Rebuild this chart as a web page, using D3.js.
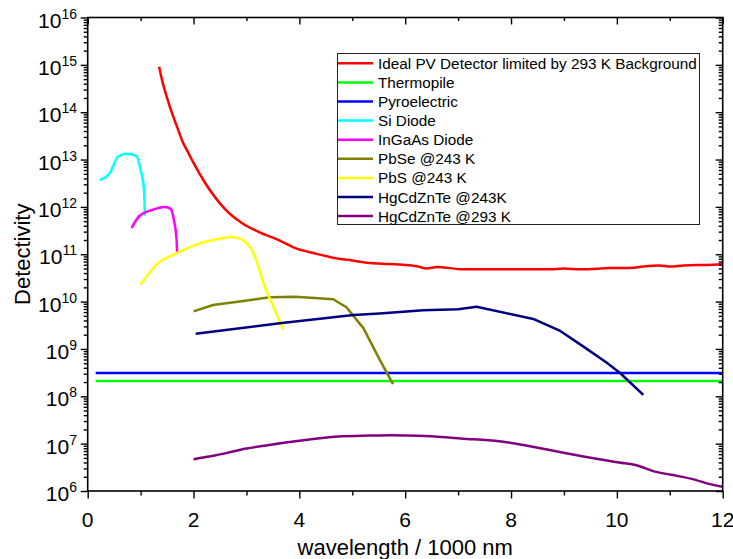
<!DOCTYPE html>
<html>
<head>
<meta charset="utf-8">
<script src="https://cdn.jsdelivr.net/npm/d3@7"></script>
<style>
  html, body { margin: 0; padding: 0; background: #fff; }
  svg { display: block; }
  text { font-family: "Liberation Sans", Arial, sans-serif; fill: #000; }
</style>
</head>
<body>
<svg id="chart" width="733" height="559"></svg>
<script>
// ---------- data (wavelength in µm = 1000 nm, detectivity) ----------
const xTicks = [0, 2, 4, 6, 8, 10, 12];
const yDecades = [6, 7, 8, 9, 10, 11, 12, 13, 14, 15, 16];

const idealX = [1.35,1.41,1.50,1.58,1.68,1.80,1.90,1.99,2.22,2.60,2.90,3.25,3.63,3.90,4.33,4.77,5.00,5.27,5.71,5.96,6.22,6.41,6.60,7.10,8.00,8.74,8.99,9.31,9.87,10.31,10.50,10.82,11.01,11.26,11.83,12.00];
const idealY = [9.1e14,4.5e14,2.0e14,1.05e14,5.2e13,2.3e13,1.4e13,8.9e12,3.2e12,8.9e11,4.7e11,2.9e11,1.95e11,1.38e11,1.02e11,7.9e10,7.4e10,6.6e10,6.2e10,6.0e10,5.6e10,5.0e10,5.4e10,4.8e10,4.8e10,4.8e10,5.0e10,4.8e10,5.1e10,5.2e10,5.5e10,5.8e10,5.5e10,5.8e10,6.0e10,6.3e10];

const thermoX = [0.15, 12];
const thermoY = [2.1e8, 2.1e8];

const pyroX = [0.15, 12];
const pyroY = [3.1e8, 3.1e8];

const siX = [0.23,0.42,0.57,0.73,0.92,1.00,1.065,1.08];
const siY = [3.7e12,5.2e12,1.15e13,1.32e13,1.2e13,6.0e12,2.3e12,6.5e11];

const ingaasX = [0.83,0.98,1.20,1.46,1.57,1.63,1.68,1.69];
const ingaasY = [3.6e11,6.5e11,8.5e11,1.0e12,9.1e11,5.2e11,2.0e11,1.05e11];

const pbseX = [2.0,2.37,2.87,3.44,3.92,4.64,4.89,5.21,5.52,5.77];
const pbseY = [6.2e9,8.5e9,1.0e10,1.23e10,1.26e10,1.12e10,7.6e9,2.75e9,5.9e8,1.8e8];

const pbsX = [1.00,1.33,1.68,2.09,2.47,2.72,2.97,3.16,3.35,3.50,3.69];
const pbsY = [2.3e10,6.5e10,1.05e11,1.66e11,2.1e11,2.3e11,1.86e11,8.9e10,2.0e10,8.3e9,2.6e9];

const hg243X = [2.04,3.63,5.02,5.52,6.34,7.00,7.35,8.42,8.93,9.37,9.81,10.06,10.50];
const hg243Y = [2.1e9,3.5e9,5.2e9,5.6e9,6.6e9,6.9e9,7.8e9,4.3e9,2.4e9,1.12e9,5.1e8,3.1e8,1.07e8];

const hg293X = [2.0,2.4,3.0,3.4,4.0,4.73,5.32,5.72,6.39,7.05,7.98,8.38,9.04,10.04,10.37,10.70,11.03,11.50,11.70,12.0];
const hg293Y = [4.7e6,5.6e6,7.9e6,9.3e6,1.15e7,1.41e7,1.48e7,1.51e7,1.45e7,1.29e7,1.05e7,8.7e6,6.3e6,4.0e6,3.5e6,2.6e6,2.2e6,1.7e6,1.45e6,1.23e6];

const seriesNames = ["Ideal PV Detector limited by 293 K Background","Thermopile","Pyroelectric","Si Diode","InGaAs Diode","PbSe @243 K","PbS @243 K","HgCdZnTe @243K","HgCdZnTe @293 K"];
const seriesColors = ["#ff0000","#00ff00","#0000ff","#00ffff","#ff00ff","#808000","#ffff00","#000080","#800080"];
const seriesXs = [idealX, thermoX, pyroX, siX, ingaasX, pbseX, pbsX, hg243X, hg293X];
const seriesYs = [idealY, thermoY, pyroY, siY, ingaasY, pbseY, pbsY, hg243Y, hg293Y];
const seriesSmooth = [true, false, false, true, true, false, true, false, true];

// ---------- layout ----------
const W = 733, H = 559;
const m = { left: 87.7, right: W - 722.7, top: 17.5, bottom: H - 491 };
const svg = d3.select("#chart");

const x = d3.scaleLinear().domain([0, 12]).range([m.left, W - m.right]);
const y = d3.scaleLog().domain([1e6, 1e16]).range([H - m.bottom, m.top]);

// ---------- series ----------
const gLines = svg.append("g");
seriesNames.forEach((name, i) => {
  const pts = seriesXs[i].map((xv, j) => [xv, seriesYs[i][j]]);
  const line = d3.line()
    .x(d => x(d[0])).y(d => y(d[1]))
    .curve(seriesSmooth[i] ? d3.curveMonotoneX : d3.curveLinear);
  gLines.append("path")
    .attr("d", line(pts))
    .attr("fill", "none")
    .attr("stroke", seriesColors[i])
    .attr("stroke-width", 2.5)
    .attr("stroke-linejoin", "round");
});

// ---------- axes ----------
const majorY = yDecades.map(e => Math.pow(10, e));
const minorY = [];
yDecades.slice(0, -1).forEach(e => { for (let k = 2; k <= 9; k++) minorY.push(k * Math.pow(10, e)); });
const majorX = xTicks;
const minorX = d3.range(1, 12, 2);

function styleAxis(g) {
  g.selectAll("path.domain").remove();
  g.selectAll("line").attr("stroke", "#000").attr("stroke-width", 1.4);
  g.selectAll("text").remove();
}

// left (outward)
svg.append("g").attr("transform", `translate(${m.left},0)`)
  .call(d3.axisLeft(y).tickValues(majorY).tickSize(7)).call(styleAxis);
svg.append("g").attr("transform", `translate(${m.left},0)`)
  .call(d3.axisLeft(y).tickValues(minorY).tickSize(4)).call(styleAxis);
// right (inward)
svg.append("g").attr("transform", `translate(${W - m.right},0)`)
  .call(d3.axisLeft(y).tickValues(majorY).tickSize(7)).call(styleAxis);
svg.append("g").attr("transform", `translate(${W - m.right},0)`)
  .call(d3.axisLeft(y).tickValues(minorY).tickSize(4)).call(styleAxis);
// bottom (outward)
svg.append("g").attr("transform", `translate(0,${H - m.bottom})`)
  .call(d3.axisBottom(x).tickValues(majorX).tickSize(7.5)).call(styleAxis);
svg.append("g").attr("transform", `translate(0,${H - m.bottom})`)
  .call(d3.axisBottom(x).tickValues(minorX).tickSize(4.5)).call(styleAxis);
// top (inward)
svg.append("g").attr("transform", `translate(0,${m.top})`)
  .call(d3.axisBottom(x).tickValues(majorX).tickSize(7)).call(styleAxis);
svg.append("g").attr("transform", `translate(0,${m.top})`)
  .call(d3.axisBottom(x).tickValues(minorX).tickSize(3.5)).call(styleAxis);

// frame
svg.append("rect")
  .attr("x", m.left).attr("y", m.top)
  .attr("width", W - m.left - m.right).attr("height", H - m.top - m.bottom)
  .attr("fill", "none").attr("stroke", "#000").attr("stroke-width", 1.6);

// tick labels
svg.append("g").selectAll("text").data(majorX).join("text")
  .attr("x", d => x(d)).attr("y", 527)
  .attr("text-anchor", "middle").attr("font-size", 21)
  .text(d => d);

const yl = svg.append("g").selectAll("text").data(yDecades).join("text")
  .attr("x", 77).attr("y", d => y(Math.pow(10, d)) + 10)
  .attr("text-anchor", "end").attr("font-size", 21);
yl.append("tspan").text("10");
yl.append("tspan").attr("font-size", 14).attr("dy", -9).text(d => d);

// axis titles
svg.append("text").attr("x", (x(0) + x(12)) / 2).attr("y", 555)
  .attr("text-anchor", "middle").attr("font-size", 22)
  .text("wavelength / 1000 nm");
svg.append("text")
  .attr("transform", `translate(30,${(y(1e6) + y(1e16)) / 2}) rotate(-90)`)
  .attr("text-anchor", "middle").attr("font-size", 22)
  .text("Detectivity");

// ---------- legend ----------
const lg = svg.append("g");
lg.append("rect").attr("x", 337.5).attr("y", 53.5).attr("width", 362).attr("height", 171)
  .attr("fill", "#fff").attr("stroke", "#222").attr("stroke-width", 1);
seriesNames.forEach((name, i) => {
  const yy = 63.3 + i * 19.1;
  lg.append("line").attr("x1", 338).attr("x2", 373).attr("y1", yy).attr("y2", yy)
    .attr("stroke", seriesColors[i]).attr("stroke-width", 2.5);
  lg.append("text").attr("x", 378).attr("y", yy + 5.5).attr("font-size", 15.3).text(name);
});
</script>
</body>
</html>
